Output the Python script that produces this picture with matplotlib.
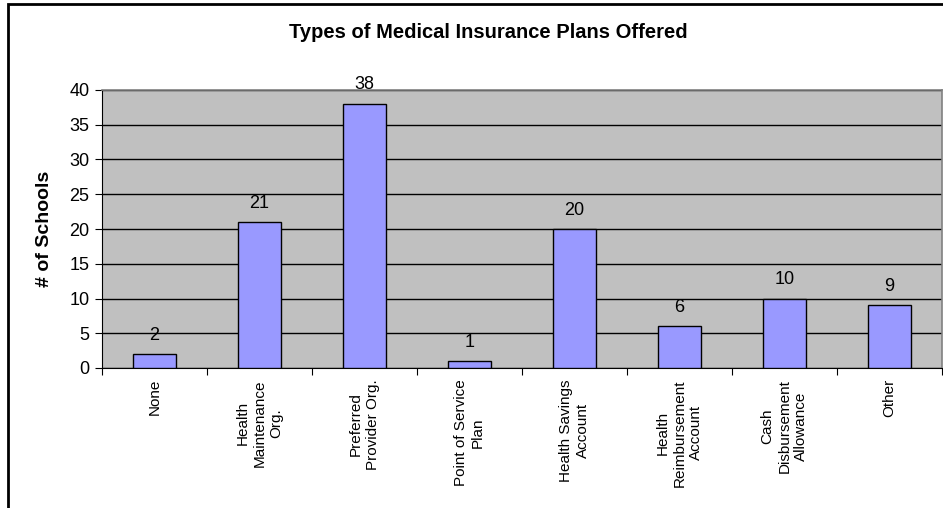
import matplotlib
matplotlib.use("Agg")
import matplotlib.pyplot as plt
import matplotlib.patches as patches
import numpy as np

plt.rcParams['font.family'] = ['Liberation Sans', 'DejaVu Sans']

# data
categories = ["None", "Health\nMaintenance\nOrg.", "Preferred\nProvider Org.",
              "Point of Service\nPlan", "Health Savings\nAccount",
              "Health\nReimbursement\nAccount", "Cash\nDisbursement\nAllowance", "Other"]
values = [2, 21, 38, 1, 20, 6, 10, 9]
title = "Types of Medical Insurance Plans Offered"
ylabel = "# of Schools"

fig = plt.figure(figsize=(9.43, 5.08), dpi=100)
ax = fig.add_axes([102/943, 140/508, 840/943, 278/508])
ax.set_facecolor("#C0C0C0")

x = np.arange(len(categories))
ax.bar(x, values, width=0.41, color="#9999FF", edgecolor="black", linewidth=1, zorder=3)
for xi, v in zip(x, values):
    ax.text(xi, v + 1.5, str(v), ha="center", va="bottom", fontsize=13, zorder=4)

ax.set_xlim(-0.5, len(categories) - 0.5)
ax.set_ylim(0, 40)
ax.set_yticks(np.arange(0, 41, 5))
ax.yaxis.grid(True, color="black", linewidth=1)
ax.set_axisbelow(True)

# ticks at category boundaries, labels at centers
ax.set_xticks(np.arange(-0.5, len(categories), 1))
ax.set_xticklabels([])
ax.set_xticks(x, minor=True)
ax.set_xticklabels(categories, minor=True, rotation=90, fontsize=11,
                   ha="center", va="top", multialignment="center", linespacing=1.25)
ax.tick_params(axis="x", which="minor", length=0, pad=8)
ax.tick_params(axis="x", which="major", length=5, direction="out", color="black")
ax.tick_params(axis="y", length=5, direction="out", labelsize=13, pad=4)

for s in ["top", "right"]:
    ax.spines[s].set_color("#808080")
    ax.spines[s].set_linewidth(1.2)
ax.spines["left"].set_color("black")
ax.spines["bottom"].set_color("black")

ax.set_ylabel(ylabel, fontsize=14, fontweight="bold", labelpad=12)
fig.text(0.518, 1 - 32/508, title, ha="center", va="center", fontsize=14.5, fontweight="bold")

# chart frame
fig.patches.append(patches.Rectangle((8/943, -0.1), 1.0, 1.1 - 4/508, transform=fig.transFigure,
                                     fill=False, edgecolor="black", linewidth=2))

fig.savefig("out.png", dpi=100)
